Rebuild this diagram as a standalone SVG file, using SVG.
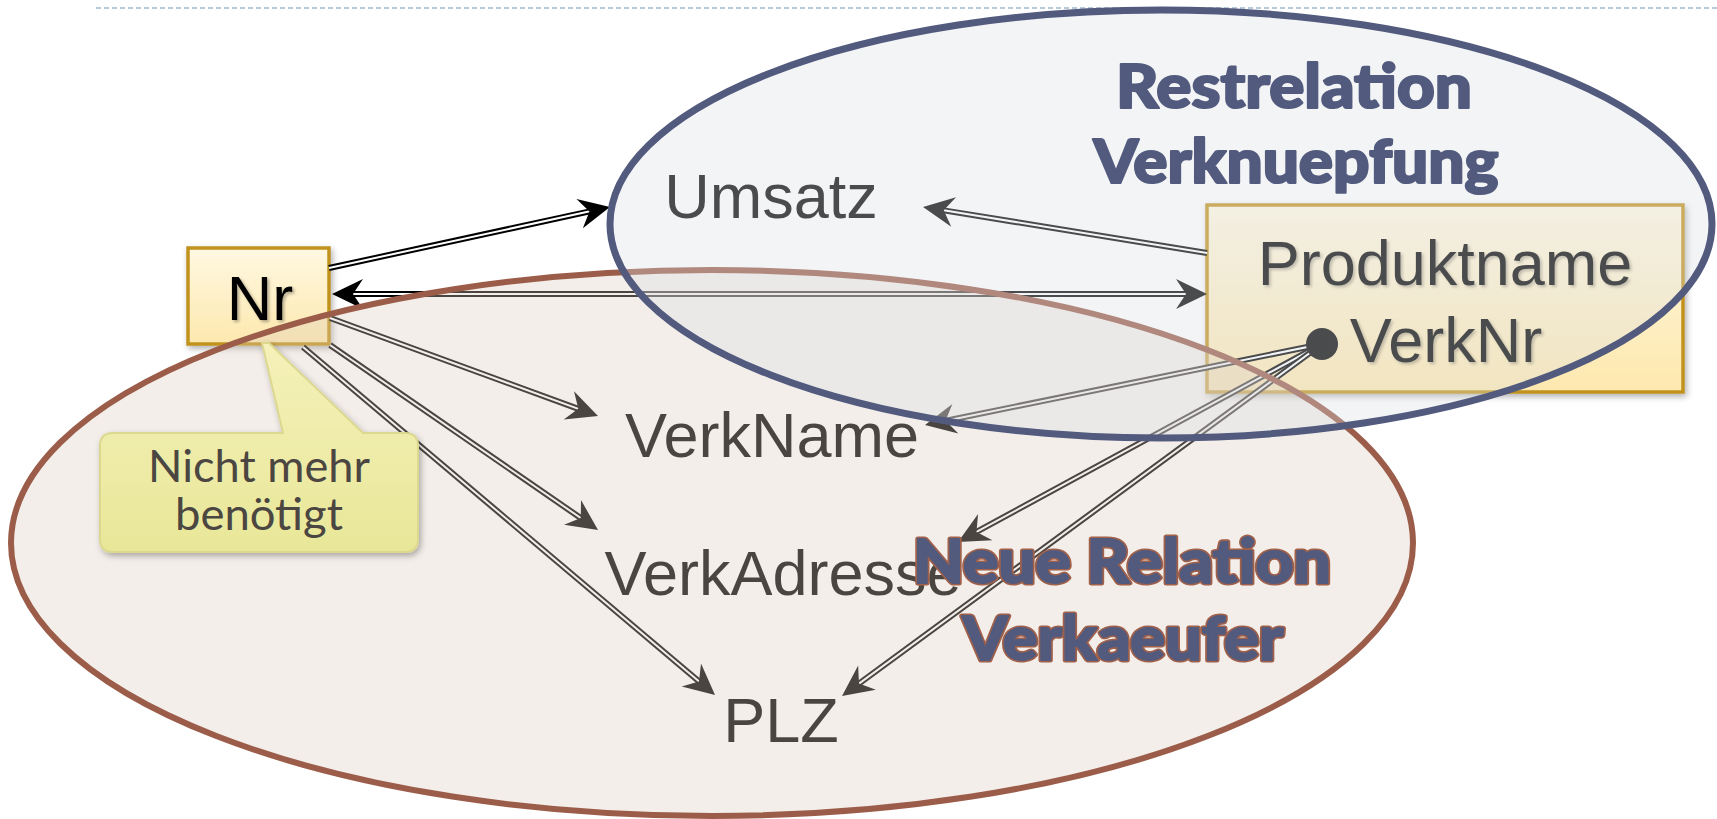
<svg xmlns="http://www.w3.org/2000/svg" width="1717" height="819" viewBox="0 0 1717 819">
<defs>
<style>
.o{stroke:#000;stroke-width:6;fill:none}
.i{stroke:#fff;stroke-width:2;fill:none}
.lbl{font-family:"Liberation Sans",Arial,sans-serif;font-size:63px;fill:#000;text-anchor:middle}
.head{font-family:Lato,"Open Sans",sans-serif;font-weight:900;font-size:60px;fill:#525a7e;stroke:#525a7e;stroke-width:2.2;stroke-linejoin:round;text-anchor:middle}
.head2o{font-family:Lato,"Open Sans",sans-serif;font-weight:900;font-size:60px;fill:#a0604a;stroke:#a0604a;stroke-width:5;stroke-linejoin:round;text-anchor:middle}
.head2{font-family:Lato,"Open Sans",sans-serif;font-weight:900;font-size:60px;fill:#525a7e;stroke:#525a7e;stroke-width:1.8;stroke-linejoin:round;text-anchor:middle}
.box{fill:url(#gBox);stroke:#c1931f;stroke-width:3.5}
.call{font-family:Lato,"Open Sans",sans-serif;font-size:45px;fill:#4b4641;text-anchor:middle}
</style>
<linearGradient id="gBox" x1="0" y1="0" x2="0" y2="1">
<stop offset="0" stop-color="#fff8e2"/>
<stop offset="1" stop-color="#fde8ae"/>
</linearGradient>
<linearGradient id="gCall" x1="0" y1="0" x2="0" y2="1">
<stop offset="0" stop-color="#f5f1ba"/>
<stop offset="1" stop-color="#e8e798"/>
</linearGradient>
<filter id="sh" x="-20%" y="-20%" width="150%" height="150%">
<feDropShadow dx="2" dy="3" stdDeviation="3" flood-color="#000" flood-opacity="0.3"/>
</filter>
<filter id="tsh" x="-20%" y="-20%" width="150%" height="150%">
<feDropShadow dx="2" dy="2" stdDeviation="1.5" flood-color="#000" flood-opacity="0.3"/>
</filter>
<marker id="ah" markerUnits="userSpaceOnUse" markerWidth="36" markerHeight="34" viewBox="-24 -17 36 34" refX="0" refY="0" orient="auto-start-reverse" overflow="visible">
<path d="M10,0 L-21,-15 L-11,0 L-21,15 Z" fill="#000"/>
</marker>
</defs>

<rect width="1717" height="819" fill="#fff"/>
<line x1="96" y1="8" x2="1717" y2="8" stroke="#a3b9cc" stroke-width="1.6" stroke-dasharray="5 3"/>

<g id="node-nr">
<rect class="box" x="188" y="248" width="141" height="96" filter="url(#sh)"/>
<text class="lbl" x="260" y="320" filter="url(#tsh)">Nr</text>
</g>

<g id="node-produktname">
<rect class="box" x="1207" y="205" width="476" height="187" filter="url(#sh)"/>
<text class="lbl" x="1445" y="285" filter="url(#tsh)">Produktname</text>
<text class="lbl" x="1446" y="362" filter="url(#tsh)">VerkNr</text>
</g>

<g id="node-umsatz"><text class="lbl" x="771" y="218">Umsatz</text></g>
<g id="node-verkname"><text class="lbl" x="772" y="457">VerkName</text></g>
<g id="node-verkadresse"><text class="lbl" x="783" y="595">VerkAdresse</text></g>
<g id="node-plz"><text class="lbl" x="781" y="742">PLZ</text></g>

<g id="connectors">
<g id="c-nr-umsatz"><line class="o" x1="329" y1="268" x2="600.2" y2="209.1"/><line class="i" x1="329" y1="268" x2="600.2" y2="209.1" marker-end="url(#ah)"/></g>
<g id="c-prod-umsatz"><line class="o" x1="1207" y1="253" x2="932.9" y2="208.6"/><line class="i" x1="1207" y1="253" x2="932.9" y2="208.6" marker-end="url(#ah)"/></g>
<g id="c-nr-prod"><line class="o" x1="342" y1="294" x2="1197" y2="294"/><line class="i" x1="342" y1="294" x2="1197" y2="294" marker-start="url(#ah)" marker-end="url(#ah)"/></g>
<g id="c-nr-verkname"><line class="o" x1="330" y1="318" x2="588.6" y2="412.6"/><line class="i" x1="330" y1="318" x2="588.6" y2="412.6" marker-end="url(#ah)"/></g>
<g id="c-nr-verkadresse"><line class="o" x1="330" y1="345" x2="589.8" y2="524.3"/><line class="i" x1="330" y1="345" x2="589.8" y2="524.3" marker-end="url(#ah)"/></g>
<g id="c-nr-plz"><line class="o" x1="303" y1="347" x2="707.4" y2="688.5"/><line class="i" x1="303" y1="347" x2="707.4" y2="688.5" marker-end="url(#ah)"/></g>
<g id="c-verknr-verkname"><line class="o" x1="1322" y1="344" x2="934.8" y2="423"/><line class="i" x1="1322" y1="344" x2="934.8" y2="423" marker-end="url(#ah)"/></g>
<g id="c-verknr-verkadresse"><line class="o" x1="1322" y1="344" x2="966.8" y2="537.2"/><line class="i" x1="1322" y1="344" x2="966.8" y2="537.2" marker-end="url(#ah)"/></g>
<g id="c-verknr-plz"><line class="o" x1="1322" y1="344" x2="850.1" y2="690.1"/><line class="i" x1="1322" y1="344" x2="850.1" y2="690.1" marker-end="url(#ah)"/></g>
<circle id="verknr-dot" cx="1322" cy="344" r="16" fill="#000"/>
</g>

<g id="group-verkaeufer">
<ellipse cx="712" cy="543" rx="701" ry="273" fill="rgb(220,205,190)" fill-opacity="0.337" stroke="#9b5d49" stroke-width="6"/>
</g>
<g id="group-verknuepfung">
<ellipse cx="1161" cy="224" rx="551" ry="214" fill="rgb(220,221,228)" fill-opacity="0.337" stroke="#525a7e" stroke-width="7"/>
</g>

<g id="callout">
<path d="M113,433 L283,433 L262,343 L269,343 L363,433 L405,433 Q418,433 418,446 L418,539 Q418,552 405,552 L113,552 Q100,552 100,539 L100,446 Q100,433 113,433 Z" fill="url(#gCall)" stroke="#dcd890" stroke-width="2" filter="url(#sh)"/>
<text class="call" x="259" y="482" textLength="222" lengthAdjust="spacingAndGlyphs">Nicht mehr</text>
<text class="call" x="259" y="530" textLength="168" lengthAdjust="spacingAndGlyphs">benötigt</text>
</g>

<g id="title-rest">
<text class="head" x="1294" y="108" textLength="356" lengthAdjust="spacingAndGlyphs">Restrelation</text>
<text class="head" x="1296" y="183" textLength="405" lengthAdjust="spacingAndGlyphs">Verknuepfung</text>
</g>
<g id="title-neu">
<text class="head2o" x="1122" y="583" textLength="418" lengthAdjust="spacingAndGlyphs">Neue Relation</text>
<text class="head2" x="1122" y="583" textLength="418" lengthAdjust="spacingAndGlyphs">Neue Relation</text>
<text class="head2o" x="1123" y="660" textLength="321" lengthAdjust="spacingAndGlyphs">Verkaeufer</text>
<text class="head2" x="1123" y="660" textLength="321" lengthAdjust="spacingAndGlyphs">Verkaeufer</text>
</g>
</svg>
